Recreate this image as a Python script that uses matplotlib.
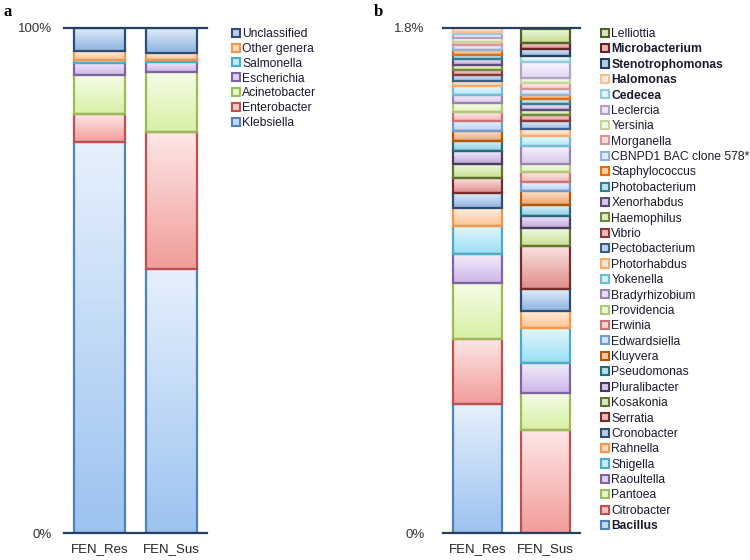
import numpy as np
import matplotlib
matplotlib.use('Agg')
import matplotlib.pyplot as plt
import matplotlib.patches as mpatches
from matplotlib.colors import to_rgb, rgb_to_hsv, hsv_to_rgb, LinearSegmentedColormap

plt.rcParams['font.family'] = ['Liberation Sans', 'DejaVu Sans']

groups = ['FEN_Res', 'FEN_Sus']

# panel a: relative abundance (%), bottom to top
a_genera = ['Klebsiella', 'Enterobacter', 'Acinetobacter', 'Escherichia',
            'Salmonella', 'Other genera', 'Unclassified']
a_res = [77.4, 5.5, 7.7, 2.4, 0.6, 1.8, 4.6]
a_sus = [52.3, 27.1, 11.9, 2.0, 0.4, 1.4, 4.9]
a_colors = ['#4F81BD', '#C0504D', '#9BBB59', '#8064A2', '#4BACC6', '#F79646', '#2C4D75']

# panel b: minor genera (%), bottom to top
b_genera = ['Bacillus', 'Citrobacter', 'Pantoea', 'Raoultella', 'Shigella', 'Rahnella',
            'Cronobacter', 'Serratia', 'Kosakonia', 'Pluralibacter', 'Pseudomonas', 'Kluyvera',
            'Edwardsiella', 'Erwinia', 'Providencia', 'Bradyrhizobium', 'Yokenella', 'Photorhabdus',
            'Pectobacterium', 'Vibrio', 'Haemophilus', 'Xenorhabdus', 'Photobacterium',
            'Staphylococcus', 'CBNPD1 BAC clone 578*', 'Morganella', 'Yersinia', 'Leclercia',
            'Cedecea', 'Halomonas', 'Stenotrophomonas', 'Microbacterium', 'Lelliottia']
b_res = [0.460, 0.232, 0.200, 0.103, 0.100, 0.064,
         0.053, 0.053, 0.052, 0.045, 0.036, 0.036,
         0.036, 0.032, 0.030, 0.030, 0.030, 0.018,
         0.024, 0.018, 0.016, 0.022, 0.012,
         0.018, 0.018, 0.012, 0.015, 0.012,
         0.009, 0.016, 0.0, 0.0, 0.0]
b_sus = [0.0, 0.367, 0.133, 0.105, 0.127, 0.061,
         0.077, 0.153, 0.063, 0.045, 0.037, 0.052,
         0.032, 0.036, 0.029, 0.061, 0.036, 0.026,
         0.027, 0.024, 0.018, 0.021, 0.017,
         0.015, 0.020, 0.021, 0.020, 0.057,
         0.020, 0.001, 0.023, 0.022, 0.052]
b_colors = ['#4F81BD', '#C0504D', '#9BBB59', '#8064A2', '#4BACC6', '#F79646',
            '#2C4D75', '#772C2A', '#5F7530', '#4D3B62', '#276A7C', '#B65708',
            '#729ACA', '#CD7371', '#AFC97A', '#9983B5', '#6FBDD1', '#F9AB6B',
            '#3A5F8B', '#8C3836', '#71893F', '#5E4B7C', '#357D91', '#E46C0A',
            '#95B3D7', '#D99694', '#C3D69B', '#B3A2C7', '#93CDDD', '#FAC090',
            '#254061', '#632523', '#4F6228']
b_bold = ['Bacillus', 'Cedecea', 'Halomonas', 'Stenotrophomonas', 'Microbacterium']

axis_col = '#254061'


def tint(c, s_mul, v_keep):
    h, s, v = rgb_to_hsv(to_rgb(c))
    return hsv_to_rgb((h, min(1.0, s * s_mul), 1 - (1 - v) * v_keep))


def draw_stack(ax, genera, res, sus, colors, top):
    x = np.arange(len(groups))
    bottom = np.zeros(len(groups))
    handles = []
    for g, r, s, c in zip(genera, res, sus, colors):
        vals = np.array([r, s])
        bars = ax.bar(x, vals, 0.72, bottom=bottom, facecolor='none',
                      edgecolor=c, linewidth=1.6, zorder=3)
        cmap = LinearSegmentedColormap.from_list(g, [tint(c, 0.6, 0.22), tint(c, 0.15, 0.04)])
        for rect in bars:
            h = rect.get_height()
            if h <= 0:
                rect.set_visible(False)
                continue
            x0, y0, w = rect.get_x(), rect.get_y(), rect.get_width()
            ax.imshow(np.linspace(0, 1, 64).reshape(-1, 1), extent=(x0, x0 + w, y0, y0 + h),
                      origin='lower', aspect='auto', cmap=cmap, zorder=2)
        handles.append(mpatches.Patch(facecolor=tint(c, 0.35, 0.15), edgecolor=c,
                                      linewidth=1.5, label=g))
        bottom += vals
    ax.set_xlim(-0.5, 1.5)
    ax.set_ylim(0, top)
    ax.set_xticks(x)
    ax.set_xticklabels(groups, fontsize=9.5, color='#222222')
    for sp in ['left', 'right']:
        ax.spines[sp].set_visible(False)
    for sp in ['top', 'bottom']:
        ax.spines[sp].set_color(axis_col)
        ax.spines[sp].set_linewidth(1.6)
        ax.spines[sp].set_zorder(4)
    ax.tick_params(length=0)
    ax.tick_params(axis='x', pad=7)
    return handles[::-1]


fig = plt.figure(figsize=(7.5, 5.6), dpi=100)
ax_a = fig.add_axes([64 / 750, 27 / 560, 143 / 750, 505 / 560])
ax_b = fig.add_axes([443 / 750, 27 / 560, 137 / 750, 505 / 560])

h_a = draw_stack(ax_a, a_genera, a_res, a_sus, a_colors, 100)
ax_a.set_yticks([0, 100])
ax_a.set_yticklabels(['0%', '100%'], fontsize=9.5, color='#333333')
ax_a.tick_params(axis='y', pad=8.5)

h_b = draw_stack(ax_b, b_genera, b_res, b_sus, b_colors, 1.8)
ax_b.set_yticks([0, 1.8])
ax_b.set_yticklabels(['0%', '1.8%'], fontsize=9.5, color='#333333')
ax_b.tick_params(axis='y', pad=13.5)

leg_kw = dict(loc='upper left', frameon=False, fontsize=8.7, handlelength=0.65,
              handleheight=0.65, handletextpad=0.2, borderpad=0, borderaxespad=0)
leg_a = fig.legend(handles=h_a, bbox_to_anchor=(232 / 750, 1 - 28 / 560),
                   labelspacing=0.235, **leg_kw)
leg_b = fig.legend(handles=h_b, bbox_to_anchor=(601 / 750, 1 - 28 / 560),
                   labelspacing=0.28, **leg_kw)
for t in leg_a.get_texts() + leg_b.get_texts():
    t.set_color('#1a1a2e')
for t in leg_b.get_texts():
    if t.get_text() in b_bold:
        t.set_fontweight('bold')

fig.text(4 / 750, 1 - 4 / 560, 'a', va='top', ha='left', fontsize=12,
         fontweight='bold', family='Liberation Serif')
fig.text(374 / 750, 1 - 4 / 560, 'b', va='top', ha='left', fontsize=12,
         fontweight='bold', family='Liberation Serif')

fig.savefig('out.png', dpi=100, facecolor='white')
